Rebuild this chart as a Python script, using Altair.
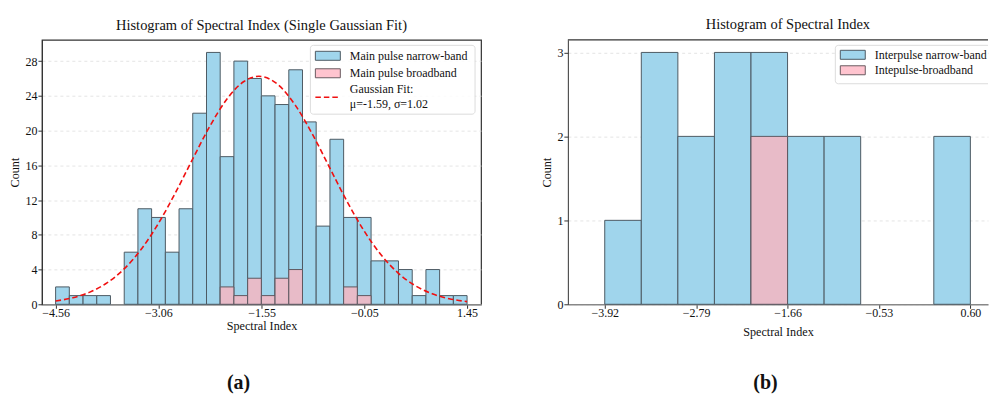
import altair as alt
import pandas as pd

FONT = "Liberation Serif"
BLUE = "#a0d5ec"
PINK_BAR = "#e8bbc8"
PINK_LEG = "#ffc4cf"
EDGE = "#4d5a63"

# ---------------- Panel (a) data ----------------
a_bin_start = [-4.560, -4.360, -4.159, -3.959, -3.759, -3.558, -3.358, -3.158, -2.957, -2.757,
               -2.557, -2.356, -2.156, -1.956, -1.755, -1.555, -1.355, -1.154, -0.954, -0.754,
               -0.553, -0.353, -0.153, 0.048, 0.248, 0.448, 0.649, 0.849, 1.049, 1.250]
a_bin_end = [-4.360, -4.159, -3.959, -3.759, -3.558, -3.358, -3.158, -2.957, -2.757, -2.557,
             -2.356, -2.156, -1.956, -1.755, -1.555, -1.355, -1.154, -0.954, -0.754, -0.553,
             -0.353, -0.153, 0.048, 0.248, 0.448, 0.649, 0.849, 1.049, 1.250, 1.450]
a_narrow = [2, 1, 1, 1, 0, 6, 11, 10, 6, 11, 22, 29, 17, 28, 26, 24, 23, 27, 21, 9,
            19, 10, 10, 5, 5, 4, 1, 4, 1, 1]
a_broad = [0, 0, 0, 0, 0, 0, 0, 0, 0, 0, 0, 0, 2, 1, 3, 1, 3, 4, 0, 0,
           0, 2, 1, 0, 0, 0, 0, 0, 0, 0]
fit_x = [-4.56, -4.31, -4.06, -3.81, -3.56, -3.31, -3.06, -2.81, -2.56, -2.31, -2.06, -1.81,
         -1.59, -1.31, -1.06, -0.81, -0.56, -0.31, -0.06, 0.19, 0.44, 0.69, 0.94, 1.19, 1.45]
fit_y = [0.38, 0.75, 1.40, 2.46, 4.07, 6.33, 9.29, 12.84, 16.70, 20.46, 23.61, 25.65,
         26.25, 25.28, 22.93, 19.60, 15.77, 11.94, 8.52, 5.73, 3.62, 2.16, 1.21, 0.64, 0.31]
a_ticks = [-4.56, -3.06, -1.55, -0.05, 1.45]
a_yticks = [0, 4, 8, 12, 16, 20, 24, 28]

# ---------------- Panel (b) data ----------------
b_bin_start = [-3.920, -3.468, -3.016, -2.564, -2.112, -1.660, -1.208, -0.756, -0.304, 0.148]
b_bin_end = [-3.468, -3.016, -2.564, -2.112, -1.660, -1.208, -0.756, -0.304, 0.148, 0.600]
b_narrow = [1, 3, 2, 3, 3, 2, 2, 0, 0, 2]
b_broad = [0, 0, 0, 0, 2, 0, 0, 0, 0, 0]
b_ticks = [-3.92, -2.79, -1.66, -0.53, 0.60]
b_yticks = [0, 1, 2, 3]

WA, WB, H = 440, 421, 265
one = pd.DataFrame({"k": [0]})


def x_axis(ticks, pad):
    return alt.Axis(values=ticks, format=".2f", title="Spectral Index", grid=False,
                    titlePadding=pad, labelOverlap=False)


def y_axis(ticks):
    return alt.Axis(values=ticks, format="d", title="Count", grid=True, labelOverlap=False)


def hist_layers(starts, ends, narrow, broad, xdom, ydom, xticks, yticks, xtitle_pad):
    df = pd.DataFrame({"s": starts, "e": ends, "narrow": narrow, "broad": broad})
    xs = alt.Scale(domain=xdom, nice=False, zero=False)
    ys = alt.Scale(domain=ydom, nice=False)
    blue = alt.Chart(df).transform_filter("datum.narrow > 0").mark_rect(
        fill=BLUE, stroke=EDGE, strokeWidth=1
    ).encode(
        x=alt.X("s:Q", scale=xs, axis=x_axis(xticks, xtitle_pad)),
        x2="e:Q",
        y=alt.Y("narrow:Q", scale=ys, axis=y_axis(yticks)),
        y2=alt.datum(0),
    )
    pink = alt.Chart(df).transform_filter("datum.broad > 0").mark_rect(
        fill=PINK_BAR, stroke="#5e5860", strokeWidth=1
    ).encode(
        x=alt.X("s:Q", scale=xs, axis=x_axis(xticks, xtitle_pad)),
        x2="e:Q",
        y=alt.Y("broad:Q", scale=ys, axis=y_axis(yticks)),
        y2=alt.datum(0),
    )
    return blue, pink


def rect_at(x0, x1, y0, y1, **kw):
    return alt.Chart(one).mark_rect(**kw).encode(
        x=alt.value(x0), x2=alt.value(x1), y=alt.value(y0), y2=alt.value(y1))


def text_at(x0, y0, txt, size=12, weight="normal", align="left", clip=False):
    return alt.Chart(one).mark_text(
        text=txt, font=FONT, fontSize=size, fontWeight=weight, color="#111",
        align=align, baseline="middle", clip=clip
    ).encode(x=alt.value(x0), y=alt.value(y0))


# ---- left panel ----
blue_a, pink_a = hist_layers(a_bin_start, a_bin_end, a_narrow, a_broad,
                             [-4.76, 1.654], [0, 30.45], a_ticks, a_yticks, 1)
fit = alt.Chart(pd.DataFrame({"x": fit_x, "y": fit_y})).mark_line(
    color="#f01010", strokeDash=[5.5, 3], strokeWidth=1.6, interpolate="monotone"
).encode(
    x=alt.X("x:Q", axis=x_axis(a_ticks, 1)),
    y=alt.Y("y:Q", axis=y_axis(a_yticks)),
)

leg_a = [
    rect_at(269, 434, 5.5, 74.5, fill="white", fillOpacity=0.85, stroke="#dcdcdc",
            strokeWidth=1, cornerRadius=3),
    rect_at(274, 299, 11.5, 20.5, fill=BLUE, stroke=EDGE, strokeWidth=1),
    rect_at(274, 299, 29, 38, fill=PINK_LEG, stroke="#6a5a60", strokeWidth=1),
    alt.Chart(one).mark_rule(color="#f01010", strokeDash=[5.5, 3], strokeWidth=1.6).encode(
        x=alt.value(274), x2=alt.value(299), y=alt.value(57.5)),
    text_at(308.5, 16, "Main pulse narrow-band"),
    text_at(308.5, 33.5, "Main pulse broadband"),
    text_at(308.5, 49, "Gaussian Fit:"),
    text_at(308.5, 64, "μ=-1.59, σ=1.02"),
    text_at(197, 344, "(a)", size=20, weight="bold", align="center"),
]

left = alt.layer(blue_a, pink_a, fit, *leg_a).properties(
    width=WA, height=H,
    title=alt.TitleParams("Histogram of Spectral Index (Single Gaussian Fit)"),
    view=alt.ViewBackground(stroke="#333", strokeWidth=1.2),
)

# ---- right panel (runs to the right edge of the picture, as in the reference) ----
blue_b, pink_b = hist_layers(b_bin_start, b_bin_end, b_narrow, b_broad,
                             [-4.376, 0.818], [0, 3.15], b_ticks, b_yticks, 7)
leg_b = [
    rect_at(268, 450, 5.5, 44, fill="white", fillOpacity=0.85, stroke="#dcdcdc",
            strokeWidth=1, cornerRadius=3, clip=True),
    rect_at(273, 298, 10.5, 19.5, fill=BLUE, stroke=EDGE, strokeWidth=1),
    rect_at(273, 298, 26, 35, fill=PINK_LEG, stroke="#6a5a60", strokeWidth=1),
    text_at(307.5, 15, "Interpulse narrow-band", clip=True),
    text_at(307.5, 30.5, "Intepulse-broadband", clip=True),
    alt.Chart(one).mark_rule(color="#333", strokeWidth=1.2).encode(
        x=alt.value(0), x2=alt.value(WB), y=alt.value(0)),
    text_at(198, 344, "(b)", size=20, weight="bold", align="center"),
]
right = alt.layer(blue_b, pink_b, *leg_b).properties(
    width=WB, height=H,
    title=alt.TitleParams("Histogram of Spectral Index", anchor="middle", dx=10),
    view=alt.ViewBackground(stroke="transparent"),
)

chart = alt.hconcat(left, right, spacing=58).properties(
    padding={"left": 0, "top": 7.5, "right": 0, "bottom": 0}
).configure(
    font=FONT,
).configure_title(
    font=FONT, fontSize=14.5, fontWeight="normal", color="#111", offset=6.8,
).configure_axis(
    labelFont=FONT, labelFontSize=12, labelColor="#111",
    titleFont=FONT, titleFontSize=12.2, titleFontWeight="normal", titleColor="#111",
    tickColor="#333", tickSize=4, labelPadding=1, domainColor="#333",
    gridColor="#dddddd", gridDash=[3, 3], gridWidth=0.8,
).configure_axisY(
    titlePadding=3,
).configure_axisX(
    domainColor="#888", domainWidth=1.5, labelPadding=-1,
)

chart.save("out.html", embed_options={"renderer": "svg", "actions": False})
